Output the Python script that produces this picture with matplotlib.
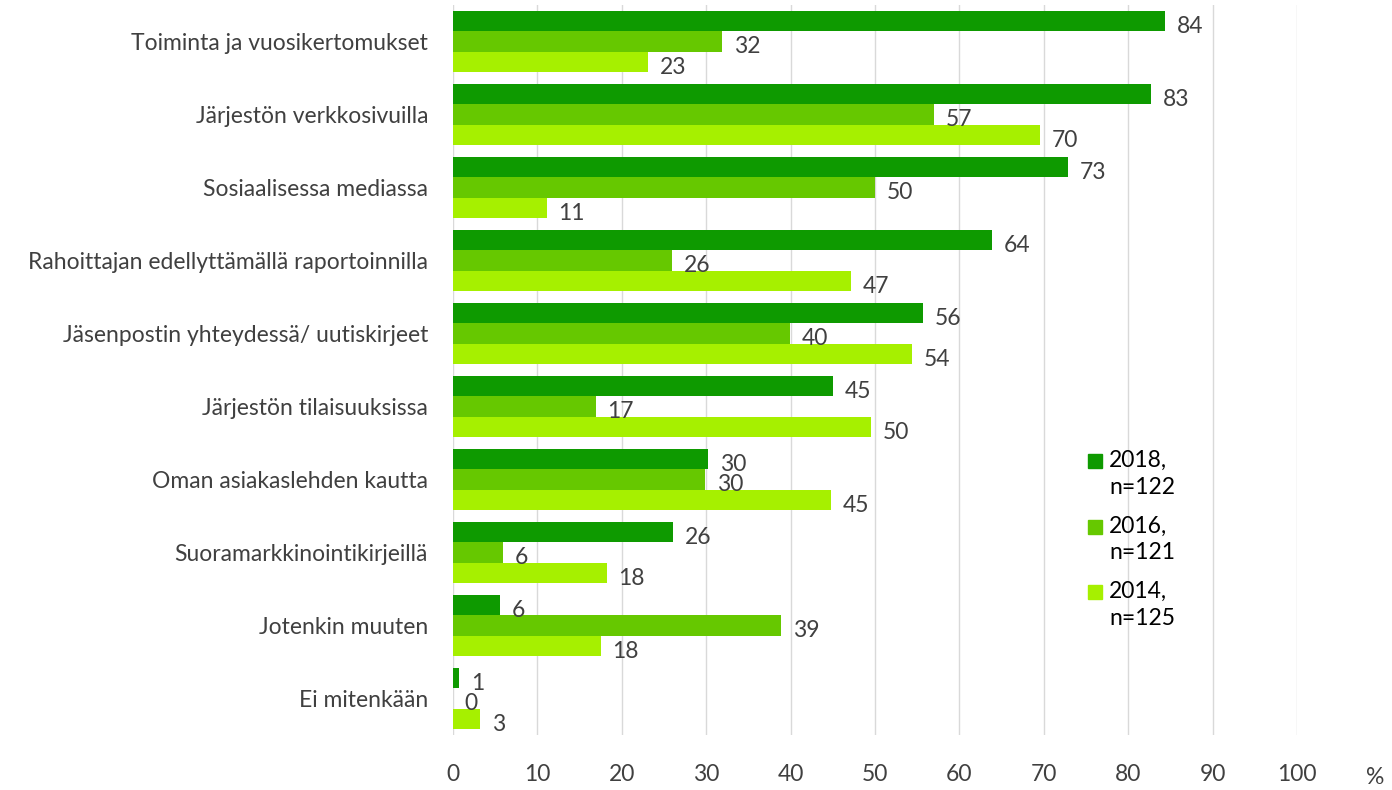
import matplotlib.pyplot as plt
import numpy as np
from matplotlib.patches import Rectangle

plt.rcParams["font.family"] = ["Lato", "DejaVu Sans"]

categories = [
    "Toiminta ja vuosikertomukset",
    "Järjestön verkkosivuilla",
    "Sosiaalisessa mediassa",
    "Rahoittajan edellyttämällä raportoinnilla",
    "Jäsenpostin yhteydessä/ uutiskirjeet",
    "Järjestön tilaisuuksissa",
    "Oman asiakaslehden kautta",
    "Suoramarkkinointikirjeillä",
    "Jotenkin muuten",
    "Ei mitenkään",
]
v2018 = [84.4, 82.7, 72.9, 63.9, 55.7, 45.0, 30.2, 26.1, 5.6, 0.7]
v2016 = [31.9, 57.0, 50.0, 25.9, 39.9, 16.9, 29.9, 5.9, 38.9, 0.0]
v2014 = [23.1, 69.5, 11.1, 47.2, 54.4, 49.5, 44.8, 18.2, 17.5, 3.2]
series_labels = ["2018,\nn=122", "2016,\nn=121", "2014,\nn=125"]
colors = ["#0e9a00", "#66c800", "#a6f000"]

text_color = "#404040"
W, H = 1392, 790

fig = plt.figure(figsize=(W / 100, H / 100), dpi=100)
ax = fig.add_axes([453 / W, 1 - 735 / H, (1297 - 453) / W, 730 / H])

y = np.arange(len(categories))
h = 0.28
for i, (vals, col) in enumerate(zip([v2018, v2016, v2014], colors)):
    pos = y + (i - 1) * h
    ax.barh(pos, vals, height=h, color=col, zorder=2)
    for p, v in zip(pos, vals):
        ax.text(v + 1.4, p + 0.07, f"{v:.0f}", va="center", ha="left",
                fontsize=16.5, color=text_color)

ax.set_xlim(0, 100)
ax.set_ylim(len(categories) - 0.5, -0.5)
ax.set_xticks(np.arange(0, 101, 10))
ax.set_yticks(y)
ax.set_yticklabels(categories, fontsize=16.5, color=text_color)
ax.tick_params(axis="x", labelsize=16.5, labelcolor=text_color, length=0, pad=21)
ax.tick_params(axis="y", length=0, pad=18)
ax.grid(axis="x", color="#d9d9d9", linewidth=1, zorder=0)
for s in ax.spines.values():
    s.set_visible(False)

fig.text(1375 / W, 1 - 778 / H, "%", fontsize=16.5, color=text_color,
         ha="center", va="center")

# legend drawn by hand so the square sits next to the first text line
for k, (lab, col) in enumerate(zip(series_labels, colors)):
    top = 454 + k * 65.5
    fig.patches.append(Rectangle((1088 / W, 1 - (top + 14) / H), 14 / W, 14 / H,
                                 transform=fig.transFigure, color=col))
    fig.text(1109 / W, 1 - (top - 4) / H, lab, fontsize=16.5, color="black",
             ha="left", va="top", linespacing=1.35)

fig.savefig("out.png", dpi=100)
